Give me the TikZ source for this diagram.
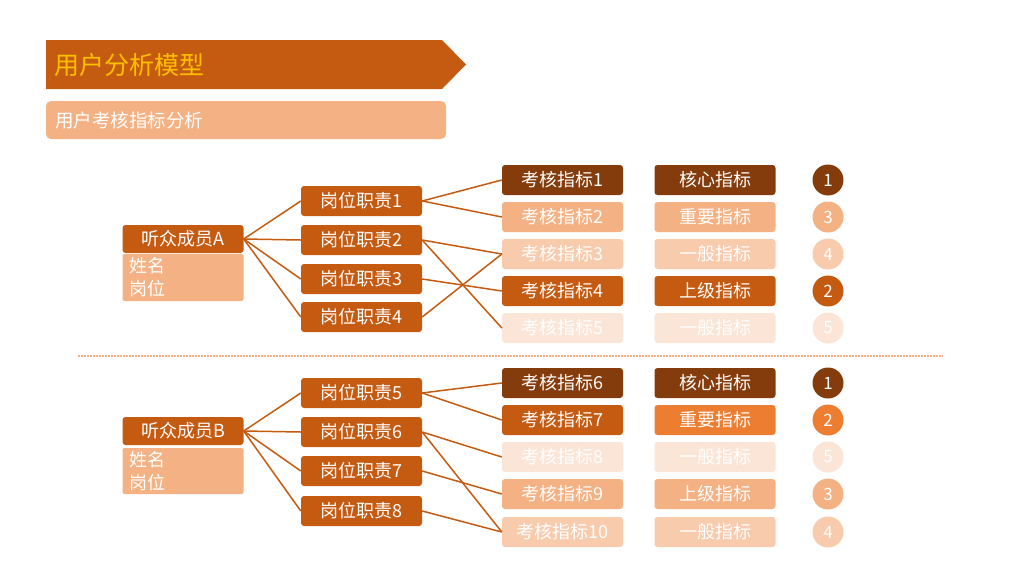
\documentclass[tikz,border=0pt]{standalone}
\usepackage{fontspec}
\setmainfont{Noto Sans CJK SC}
\usepackage{xcolor}
\usepackage{tikz}
\usetikzlibrary{calc}

\definecolor{rust}{HTML}{C55A11}
\definecolor{darkrust}{HTML}{843C0C}
\definecolor{brightrust}{HTML}{ED7D31}
\definecolor{peach}{HTML}{F4B183}
\definecolor{lightpeach}{HTML}{F8CBAD}
\definecolor{palepeach}{HTML}{FBE5D6}
\definecolor{gold}{HTML}{FFC000}

\begin{document}
\begin{tikzpicture}[x=1pt,y=-1pt,
        box/.style={rounded corners=3pt,minimum width=121pt,minimum height=30pt,inner sep=0pt,
            text=white,font=\fontsize{18}{23}\selectfont},
        link/.style={draw=rust,line width=1.5pt},
        dot/.style={circle,minimum size=31pt,inner sep=0pt,text=white,font=\fontsize{17}{17}\selectfont}]
    \useasboundingbox (0,0) rectangle (1024,576);

    % Header:
    % The banner is a plain filled path with its pointed end on the right
    \fill [rust] (46,40) -- (442,40) -- (466,64.5) -- (442,89) -- (46,89) -- cycle;
    \node [anchor=west,inner sep=0pt,text=gold,font=\fontsize{25}{25}\selectfont] (title) at (54,65) {用户分析模型};
    \node [box,fill=peach,minimum width=400pt,minimum height=38pt,rounded corners=5pt,
        text width=382pt,align=left,font=\fontsize{18.5}{20}\selectfont] (subtitle) at (246,120) {用户考核指标分析};

    % Upper group: member A
    \node [box,fill=rust,minimum height=28pt] (memA) at (183,239) {听众成员A};
    \node [box,fill=peach,minimum height=47pt,rounded corners=2pt,text width=108pt,align=left] (infoA) at (183,277.5) {姓名\\岗位};
    \foreach \i/\y in {1/201,2/240,3/279,4/317}{%
        \node [box,fill=rust] (dA\i) at (361.5,\y) {岗位职责\i};
        \draw [link] (memA.east) -- (dA\i.west);
    }
    % index / height / colour of the indicator / level text / colour of the level / rank
    \foreach \i/\y/\kc/\lt/\lc/\num in {1/180/darkrust/核心指标/darkrust/1,
                                        2/217/peach/重要指标/peach/3,
                                        3/254/lightpeach/一般指标/lightpeach/4,
                                        4/291/rust/上级指标/rust/2,
                                        5/328/palepeach/一般指标/palepeach/5}{%
        \node [box,fill=\kc] (kA\i) at (562.5,\y) {考核指标\i};
        \node [box,fill=\lc] (lvA\i) at (715,\y) {\lt};
        \node [dot,fill=\lc] (nA\i) at (828,\y) {\num};
    }
    \foreach \a/\b in {1/1,1/2,2/3,2/5,3/4,4/3}
        \draw [link] (dA\a.east) -- (kA\b.west);

    % Separator:
    \draw [peach,line width=1.5pt,dash pattern=on 1.5pt off 1.5pt] (78,356) -- (943,356);

    % Lower group: member B
    \node [box,fill=rust,minimum height=28pt] (memB) at (183,431) {听众成员B};
    \node [box,fill=peach,minimum height=46pt,rounded corners=2pt,text width=108pt,align=left] (infoB) at (183,471) {姓名\\岗位};
    \foreach \i/\y in {5/393,6/432,7/471,8/511}{%
        \node [box,fill=rust] (dB\i) at (361.5,\y) {岗位职责\i};
        \draw [link] (memB.east) -- (dB\i.west);
    }
    \foreach \i/\y/\kc/\lt/\lc/\num in {6/383/darkrust/核心指标/darkrust/1,
                                        7/420/rust/重要指标/brightrust/2,
                                        8/457/palepeach/一般指标/palepeach/5,
                                        9/494/peach/上级指标/peach/3,
                                        10/532/lightpeach/一般指标/lightpeach/4}{%
        \node [box,fill=\kc] (kB\i) at (562.5,\y) {考核指标\i};
        \node [box,fill=\lc] (lvB\i) at (715,\y) {\lt};
        \node [dot,fill=\lc] (nB\i) at (828,\y) {\num};
    }
    \foreach \a/\b in {5/6,5/7,6/8,6/10,7/9,8/10}
        \draw [link] (dB\a.east) -- (kB\b.west);
\end{tikzpicture}
\end{document}
